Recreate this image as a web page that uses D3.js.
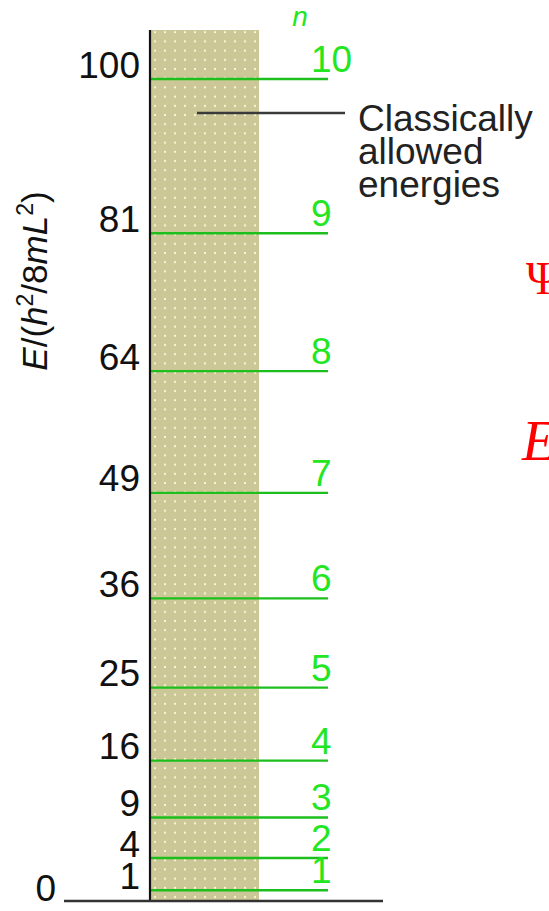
<!DOCTYPE html>
<html>
<head>
<meta charset="utf-8">
<script src="https://cdn.jsdelivr.net/npm/d3@7"></script>
<style>
  html, body { margin: 0; padding: 0; background: #fff; overflow: hidden; }
  svg { display: block; }
</style>
</head>
<body>
<div id="chart"></div>
<script>
// quantum numbers and energies in units of h^2/8mL^2
var levels = [1, 2, 3, 4, 5, 6, 7, 8, 9, 10];
var energies = [1, 4, 9, 16, 25, 36, 49, 64, 81, 100];
var tickValues = [1, 4, 9, 16, 25, 36, 49, 64, 81, 100];
var zeroLabel = "0";
var noteLines = ["Classically", "allowed", "energies"];

var width = 549,
  height = 911,
  axisX = 150,
  boxRight = 259,
  levelEnd = 328,
  boxTop = 30,
  floorY = 901,
  font = "'Liberation Sans', Arial, sans-serif";

var svg = d3.select("#chart").append("svg")
  .attr("width", width)
  .attr("height", height);

// the drawing stretches the bottom a little, so two segments
var y = d3.scaleLinear().domain([0, 4, 100]).range([floorY, 858, 79]);

// dotted khaki box = classically allowed region
var defs = svg.append("defs");
var pat = defs.append("pattern")
  .attr("id", "dots")
  .attr("patternUnits", "userSpaceOnUse")
  .attr("width", 10)
  .attr("height", 9.2);
pat.append("rect").attr("width", 10).attr("height", 9.2).attr("fill", "#cbc796");
pat.append("circle").attr("cx", 5).attr("cy", 4.6).attr("r", 1.1).attr("fill", "#faf7dc");

svg.append("rect")
  .attr("x", axisX)
  .attr("y", boxTop)
  .attr("width", boxRight - axisX)
  .attr("height", floorY - boxTop)
  .attr("fill", "url(#dots)");

// energy levels
svg.append("g").selectAll("line")
  .data(energies)
  .enter().append("line")
  .attr("x1", axisX)
  .attr("x2", levelEnd)
  .attr("y1", function(d) { return y(d); })
  .attr("y2", function(d) { return y(d); })
  .style("stroke", "#1cbf1c")
  .style("stroke-width", 2.4);

svg.append("g").selectAll("text")
  .data(levels)
  .enter().append("text")
  .attr("x", 311)
  .attr("y", function(d, i) { return y(energies[i]) - 7; })
  .attr("font-family", font)
  .attr("font-size", 37)
  .attr("fill", "#22e622")
  .text(function(d) { return d; });

svg.append("text")
  .attr("x", 300)
  .attr("y", 26)
  .attr("text-anchor", "middle")
  .attr("font-family", font)
  .attr("font-style", "italic")
  .attr("font-size", 28)
  .attr("fill", "#22e622")
  .text("n");

// y axis: ticks sit just above each level
var yAxis = d3.axisLeft(y).tickValues(tickValues).tickSize(0).tickPadding(10);
var gy = svg.append("g")
  .attr("transform", "translate(" + axisX + ",0)")
  .call(yAxis);
gy.select(".domain").remove();
gy.selectAll("text")
  .attr("dy", -2)
  .attr("font-family", font)
  .attr("font-size", 37)
  .attr("fill", "#111");

svg.append("text")
  .attr("x", 56)
  .attr("y", floorY)
  .attr("text-anchor", "end")
  .attr("font-family", font)
  .attr("font-size", 37)
  .attr("fill", "#111")
  .text(zeroLabel);

svg.append("line")
  .attr("x1", axisX).attr("x2", axisX)
  .attr("y1", boxTop).attr("y2", floorY)
  .style("stroke", "#111")
  .style("stroke-width", 2.2);

svg.append("line")
  .attr("x1", 64).attr("x2", 383)
  .attr("y1", floorY).attr("y2", floorY)
  .style("stroke", "#333")
  .style("stroke-width", 2.5);

// axis title, rotated
var title = svg.append("text")
  .attr("transform", "translate(47,281) rotate(-90)")
  .attr("text-anchor", "middle")
  .attr("font-family", font)
  .attr("font-size", 35)
  .attr("fill", "#111");
title.append("tspan").attr("font-style", "italic").text("E");
title.append("tspan").text("/(");
title.append("tspan").attr("font-style", "italic").text("h");
title.append("tspan").attr("font-size", 23).attr("dy", -14).text("2");
title.append("tspan").attr("dy", 14).text("/8");
title.append("tspan").attr("font-style", "italic").text("mL");
title.append("tspan").attr("font-size", 23).attr("dy", -14).text("2");
title.append("tspan").attr("dy", 14).text(")");

// annotation
svg.append("line")
  .attr("x1", 197).attr("x2", 345)
  .attr("y1", 113).attr("y2", 113)
  .style("stroke", "#3a3a3a")
  .style("stroke-width", 2.5);

svg.append("g").selectAll("text")
  .data(noteLines)
  .enter().append("text")
  .attr("x", 358)
  .attr("y", function(d, i) { return 131 + i * 33; })
  .attr("font-family", font)
  .attr("font-size", 37)
  .attr("fill", "#222")
  .text(function(d) { return d; });

// red symbols cut off at the right edge
svg.append("text")
  .attr("x", 526)
  .attr("y", 294)
  .attr("font-family", "'Liberation Serif', 'Times New Roman', serif")
  .attr("font-size", 46)
  .attr("fill", "#ff0000")
  .text("\u03A8");

svg.append("text")
  .attr("x", 522)
  .attr("y", 460)
  .attr("font-family", "'Liberation Serif', 'Times New Roman', serif")
  .attr("font-style", "italic")
  .attr("font-size", 56)
  .attr("fill", "#ff0000")
  .text("E");
</script>
</body>
</html>
